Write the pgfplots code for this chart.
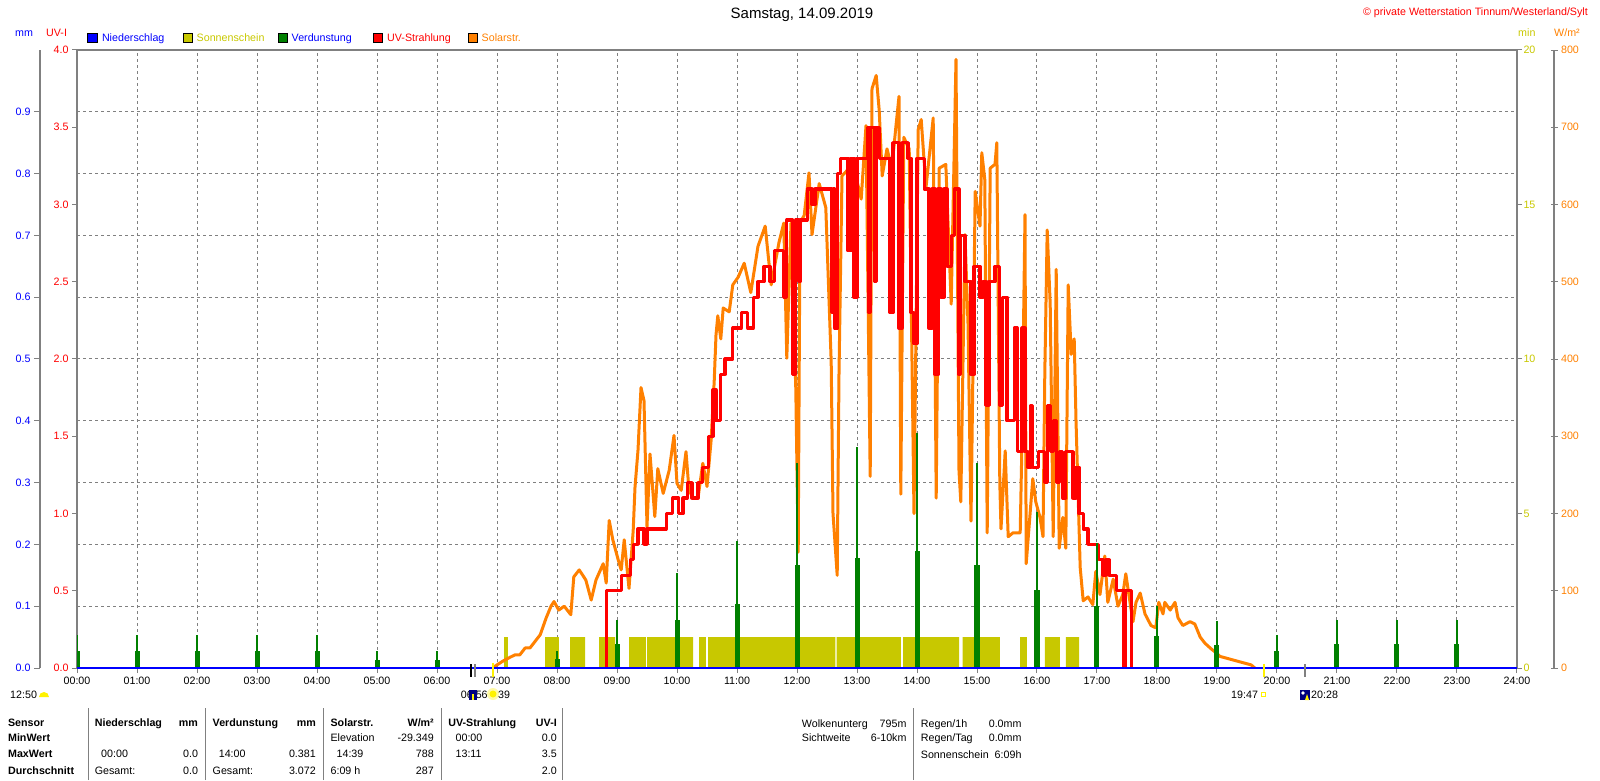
\documentclass[border=0pt]{standalone}
\usepackage{pgfplots}
\pgfplotsset{compat=1.18}
\usepackage{fontspec}
\setmainfont{Liberation Sans}
\definecolor{cblue}{RGB}{0,0,255}
\definecolor{csun}{RGB}{200,200,0}
\definecolor{cgreen}{RGB}{0,128,0}
\definecolor{cred}{RGB}{255,0,0}
\definecolor{corange}{RGB}{255,128,0}
\definecolor{cgray}{RGB}{128,128,128}
\definecolor{cnavy}{RGB}{0,0,128}
\newcommand\fs{\fontsize{10.7}{12}\selectfont}
\newcommand\fb{\fontsize{10.7}{12}\selectfont\bfseries}
\pgfplotsset{base/.style={scale only axis, width=1440pt, height=618pt, xmin=0, xmax=24, at={(77pt,112pt)}, anchor=south west}}

\pgfplotstableread{
h w
6.93 0
6.98 3
7.10 9
7.22 14
7.30 17
7.38 17
7.47 26
7.55 26
7.63 34
7.72 43
7.82 65
7.90 80
7.95 86
8.03 75
8.12 80
8.23 69
8.28 118
8.37 127
8.48 114
8.57 88
8.65 114
8.77 135
8.82 110
8.87 191
8.93 166
9.02 140
9.07 127
9.12 166
9.20 103
9.27 178
9.30 234
9.35 282
9.40 363
9.45 346
9.50 183
9.55 277
9.63 196
9.68 258
9.77 226
9.87 256
9.95 301
10.00 239
10.07 230
10.15 280
10.20 230
10.27 220
10.35 220
10.43 265
10.50 235
10.57 296
10.62 371
10.65 431
10.68 456
10.73 426
10.77 466
10.87 461
10.93 496
11.02 506
11.12 524
11.23 486
11.35 546
11.47 572
11.57 496
11.70 551
11.78 576
11.83 401
11.90 576
11.98 361
12.02 150
12.05 576
12.12 586
12.20 641
12.25 561
12.37 627
12.48 596
12.57 396
12.60 200
12.67 120
12.70 381
12.75 637
12.87 647
12.98 637
13.07 607
13.15 702
13.22 248
13.25 750
13.32 767
13.37 722
13.42 637
13.50 672
13.58 647
13.65 702
13.70 740
13.73 225
13.78 687
13.87 672
13.95 200
14.02 697
14.07 710
14.15 622
14.27 712
14.32 220
14.37 647
14.48 652
14.57 471
14.65 788
14.70 255
14.73 215
14.80 561
14.85 446
14.90 190
14.97 617
15.05 572
15.08 667
15.13 632
15.17 175
15.22 647
15.30 652
15.33 680
15.38 240
15.40 180
15.47 281
15.52 170
15.60 175
15.72 175
15.75 296
15.80 587
15.82 135
15.88 195
15.93 245
15.98 215
16.05 195
16.10 170
16.13 381
16.17 567
16.22 471
16.27 170
16.32 516
16.37 155
16.43 195
16.48 155
16.52 496
16.57 406
16.62 426
16.65 321
16.72 130
16.77 87
16.85 92
16.93 82
16.98 125
17.05 95
17.13 145
17.18 85
17.27 115
17.35 80
17.43 95
17.48 122
17.55 85
17.60 60
17.65 85
17.72 97
17.80 70
17.90 55
17.98 52
18.03 85
18.10 70
18.13 85
18.22 75
18.30 85
18.35 65
18.43 55
18.55 60
18.63 57
18.72 40
18.80 32
18.90 25
18.98 20
19.05 15
19.38 8
19.57 4
19.63 0
}\solar

\pgfplotstableread{
h uv
8.80 0
8.82 0.5
9.08 0.6
9.23 0.7
9.28 0.8
9.35 0.9
9.45 0.8
9.50 0.9
9.82 1.0
9.93 1.1
10.03 1.0
10.10 1.1
10.17 1.2
10.25 1.1
10.35 1.2
10.43 1.3
10.53 1.5
10.60 1.8
10.65 1.6
10.73 1.9
10.80 2.0
10.93 2.2
11.07 2.3
11.18 2.2
11.27 2.4
11.35 2.5
11.45 2.6
11.55 2.5
11.63 2.7
11.78 2.4
11.83 2.9
11.93 1.9
11.98 2.9
12.02 2.5
12.05 2.9
12.17 3.1
12.25 3.0
12.30 3.1
12.58 2.3
12.60 3.1
12.63 2.2
12.68 3.2
12.72 3.3
12.85 2.7
12.90 3.3
12.95 2.4
13.00 3.3
13.17 3.5
13.20 2.3
13.23 3.5
13.30 2.5
13.33 3.5
13.38 3.3
13.55 2.3
13.60 3.4
13.70 2.2
13.75 3.4
13.85 3.3
13.90 2.3
13.95 2.1
14.00 3.3
14.12 3.1
14.20 2.2
14.25 3.1
14.30 1.9
14.35 3.1
14.40 2.4
14.45 3.1
14.50 2.6
14.57 2.8
14.63 3.1
14.70 1.9
14.73 2.8
14.80 2.5
14.90 1.9
14.95 2.6
15.05 2.4
15.10 2.5
15.15 1.7
15.20 2.5
15.30 2.6
15.38 1.7
15.43 2.4
15.50 1.6
15.62 2.2
15.67 1.4
15.75 2.2
15.80 1.4
15.85 1.3
15.90 1.7
15.93 1.3
16.03 1.4
16.12 1.2
16.17 1.7
16.22 1.4
16.27 1.6
16.32 1.2
16.38 1.4
16.43 1.1
16.48 1.4
16.60 1.1
16.65 1.3
16.70 1.0
16.77 0.9
16.85 0.8
17.03 0.7
17.10 0.6
17.15 0.7
17.20 0.6
17.32 0.5
17.45 0
17.48 0.5
17.58 0
17.60 0
}\uvdata

\begin{document}
\begin{tikzpicture}
\path[use as bounding box] (0pt,0pt) rectangle (1600pt,780pt);

% grid
\begin{axis}[base, ymin=0, ymax=1, xtick={1,...,23}, ytick={0.1,0.2,...,0.9},
  xticklabels={}, yticklabels={}, major tick length=0pt, axis line style={draw=none},
  grid=major, major grid style={cgray, line width=1pt, dash pattern=on 3pt off 3pt}]
\addplot[draw=none] coordinates {(0,0)};
\end{axis}

% sunshine (min axis, right)
\begin{axis}[base, ymin=0, ymax=20, axis x line=none, axis y line*=right,
  y axis line style={cgray, line width=2pt}, ytick={0,5,10,15,20}, tick align=outside,
  major tick length=5pt, y tick style={cgray, line width=1pt},
  yticklabel style={text=csun, font=\fs, xshift=-2pt}, /pgf/number format/assume math mode=true]
\addplot[fill=csun, draw=none] coordinates {
(7.12,0)(7.12,1)(7.18,1)(7.18,0)
(7.80,0)(7.80,1)(8.03,1)(8.03,0)
(8.22,0)(8.22,1)(8.47,1)(8.47,0)
(8.70,0)(8.70,1)(8.97,1)(8.97,0)
(9.20,0)(9.20,1)(9.48,1)(9.48,0)
(9.50,0)(9.50,1)(10.27,1)(10.27,0)
(10.37,0)(10.37,1)(10.48,1)(10.48,0)
(10.52,0)(10.52,1)(12.64,1)(12.64,0)
(12.66,0)(12.66,1)(13.73,1)(13.73,0)
(13.77,0)(13.77,1)(14.70,1)(14.70,0)
(14.76,0)(14.76,1)(15.38,1)(15.38,0)
(15.72,0)(15.72,1)(15.83,1)(15.83,0)
(16.13,0)(16.13,1)(16.38,1)(16.38,0)
(16.48,0)(16.48,1)(16.70,1)(16.70,0)} \closedcycle;
\end{axis}

% solar radiation
\begin{axis}[base, ymin=0, ymax=800, hide axis]
\addplot[corange, line width=3pt, line join=round] table[x=h, y=w] {\solar};
\end{axis}

% UV axis with frame
\begin{axis}[base, ymin=0, ymax=4, axis line style={cgray, line width=2pt},
  xtick={0,...,24}, xtick pos=left, ytick={0,0.5,...,4}, ytick pos=left,
  xticklabels={00:00,01:00,02:00,03:00,04:00,05:00,06:00,07:00,08:00,09:00,10:00,11:00,12:00,13:00,14:00,15:00,16:00,17:00,18:00,19:00,20:00,21:00,22:00,23:00,24:00},
  tick align=outside, major tick length=5pt, tick style={cgray, line width=1pt},
  xticklabel style={font=\fs},
  yticklabel style={text=cred, font=\fs, /pgf/number format/fixed, /pgf/number format/fixed zerofill, /pgf/number format/precision=1},
  /pgf/number format/assume math mode=true]
\addplot[cred, line width=3.2pt, const plot, line join=round] table[x=h, y=uv] {\uvdata};
\end{axis}

% evaporation
\begin{axis}[base, ymin=0, ymax=1, hide axis]
\addplot[cgreen, ycomb, line width=5pt] coordinates {
(0,0.027)(1,0.027)(2,0.027)(3,0.027)(4,0.027)(5,0.013)(6,0.013)(8,0.014)(9,0.039)(10,0.077)(11,0.103)(12,0.166)(13,0.178)(14,0.19)(15,0.166)(16,0.127)(17,0.101)(18,0.051)(19,0.038)(20,0.027)(21,0.039)(22,0.039)(23,0.039)};
\addplot[cgreen, ycomb, line width=2.8pt] coordinates {
(0,0.053)(1,0.053)(2,0.053)(3,0.053)(4,0.053)(5,0.027)(6,0.027)(8,0.027)(9,0.077)(10,0.153)(11,0.205)(12,0.332)(13,0.357)(14,0.381)(15,0.332)(16,0.253)(17,0.203)(18,0.101)(19,0.076)(20,0.054)(21,0.077)(22,0.077)(23,0.077)};
\end{axis}

% precipitation line and sun/moon markers
\begin{axis}[base, ymin=0, ymax=1, hide axis, clip=false]
\addplot[cblue, line width=2pt] coordinates {(0,0) (24,0)};
\addplot[black, line width=2pt] coordinates {(6.567,-0.014) (6.567,0.006)};
\addplot[cgray, line width=2pt] coordinates {(6.633,-0.014) (6.633,0.006)};
\addplot[yellow, line width=2pt] coordinates {(6.933,-0.014) (6.933,0.008)};
\addplot[yellow, line width=2pt] coordinates {(19.783,-0.014) (19.783,0.006)};
\addplot[cgray, line width=2pt] coordinates {(20.467,-0.014) (20.467,0.006)};
\end{axis}

% mm axis (left, offset)
\begin{axis}[scale only axis, width=10pt, height=618pt, at={(40pt,112pt)}, anchor=south west,
  xmin=0, xmax=1, ymin=0, ymax=1, axis x line=none, axis y line*=left,
  y axis line style={cgray, line width=1.5pt}, ytick={0,0.1,...,0.9}, tick align=outside,
  major tick length=6pt, y tick style={cgray, line width=1pt},
  yticklabel style={text=cblue, font=\fs, /pgf/number format/fixed, /pgf/number format/fixed zerofill, /pgf/number format/precision=1},
  /pgf/number format/assume math mode=true]
\addplot[draw=none] coordinates {(0,0)};
\end{axis}

% W/m2 axis (right, offset)
\begin{axis}[scale only axis, width=10pt, height=618pt, at={(1554pt,112pt)}, anchor=south east,
  xmin=0, xmax=1, ymin=0, ymax=800, axis x line=none, axis y line*=right,
  y axis line style={cgray, line width=1.5pt}, ytick={0,100,...,800}, tick align=center,
  major tick length=7pt, y tick style={cgray, line width=1pt},
  yticklabel style={text=corange, font=\fs},
  /pgf/number format/assume math mode=true]
\addplot[draw=none] coordinates {(0,0)};
\end{axis}

% title and headers
\node[font={\fontsize{15}{18}\selectfont}, anchor=base] at (802pt,761pt) {Samstag, 14.09.2019};
\node[font=\fs, text=cred, anchor=base east, inner sep=0pt] at (1588pt,764pt) {© private Wetterstation Tinnum/Westerland/Sylt};
\node[font=\fs, text=cblue, anchor=base west, inner sep=0pt] at (15pt,743pt) {mm};
\node[font=\fs, text=cred, anchor=base west, inner sep=0pt] at (46pt,743pt) {UV-I};
\node[font=\fs, text=csun, anchor=base west, inner sep=0pt] at (1518pt,743pt) {min};
\node[font=\fs, text=corange, anchor=base west, inner sep=0pt] at (1554pt,743pt) {W/m²};

% legend
\draw[black, fill=cblue] (87.5pt,737.5pt) rectangle (97pt,747pt);
\node[font=\fs, text=cblue, anchor=base west, inner sep=0pt] at (101.8pt,738pt) {Niederschlag};
\draw[black, fill=csun] (183pt,737.5pt) rectangle (192.5pt,747pt);
\node[font=\fs, text=csun, anchor=base west, inner sep=0pt] at (196.5pt,738pt) {Sonnenschein};
\draw[black, fill=cgreen] (278pt,737.5pt) rectangle (287.5pt,747pt);
\node[font=\fs, text=cblue, anchor=base west, inner sep=0pt] at (291.5pt,738pt) {Verdunstung};
\draw[black, fill=cred] (373pt,737.5pt) rectangle (382.5pt,747pt);
\node[font=\fs, text=cred, anchor=base west, inner sep=0pt] at (387pt,738pt) {UV-Strahlung};
\draw[black, fill=corange] (468pt,737.5pt) rectangle (477.5pt,747pt);
\node[font=\fs, text=corange, anchor=base west, inner sep=0pt] at (481.5pt,738pt) {Solarstr.};

% sun / moon times
\node[font=\fs, anchor=base west, inner sep=0pt] at (10pt,82pt) {12:50};
\fill[yellow] (39pt,83pt) arc (180:0:5pt) -- cycle;
\node[font=\fs, anchor=base west, inner sep=0pt] at (460.7pt,82pt) {06:56};
\fill[cnavy] (469pt,80pt) rectangle (477pt,90pt);
\fill[yellow] (472pt,80pt) rectangle (474pt,86pt);
\fill[yellow!35] (493pt,86pt) circle (6pt);
\fill[yellow] (493pt,86pt) circle (3.5pt);
\node[font=\fs, anchor=base west, inner sep=0pt] at (498pt,82pt) {39};
\node[font=\fs, anchor=base west, inner sep=0pt] at (1231pt,82pt) {19:47};
\draw[yellow, line width=1pt] (1261pt,84pt) rectangle (1265pt,88pt);
\fill[cnavy] (1300pt,80pt) rectangle (1310pt,90pt);
\fill[white] (1303pt,87pt) circle (1.8pt);
\fill[yellow] (1305pt,80pt) -- (1307pt,86pt) -- (1309pt,80pt) -- cycle;
\node[font=\fs, anchor=base west, inner sep=0pt] at (1311pt,82pt) {20:28};

% table separators
\foreach \xx in {88.2,205.4,323.2,441.8,562,913.3} {\draw[cgray, line width=1pt] (\xx pt,0pt) -- (\xx pt,72pt);}

% table text
\begin{scope}[every node/.style={inner sep=0pt, font=\fs}]
\node[anchor=base west, font=\fb] at (7.9pt,54pt) {Sensor};
\node[anchor=base west, font=\fb] at (7.9pt,38.3pt) {MinWert};
\node[anchor=base west, font=\fb] at (7.9pt,22.3pt) {MaxWert};
\node[anchor=base west, font=\fb] at (7.9pt,6pt) {Durchschnitt};
\node[anchor=base west, font=\fb] at (94.6pt,54pt) {Niederschlag};
\node[anchor=base east, font=\fb] at (198.2pt,54pt) {mm};
\node[anchor=base west] at (101pt,22.3pt) {00:00};
\node[anchor=base east] at (198.2pt,22.3pt) {0.0};
\node[anchor=base west] at (94.6pt,6pt) {Gesamt:};
\node[anchor=base east] at (198.2pt,6pt) {0.0};
\node[anchor=base west, font=\fb] at (212.5pt,54pt) {Verdunstung};
\node[anchor=base east, font=\fb] at (316pt,54pt) {mm};
\node[anchor=base west] at (218.6pt,22.3pt) {14:00};
\node[anchor=base east] at (316pt,22.3pt) {0.381};
\node[anchor=base west] at (212.5pt,6pt) {Gesamt:};
\node[anchor=base east] at (316pt,6pt) {3.072};
\node[anchor=base west, font=\fb] at (330.4pt,54pt) {Solarstr.};
\node[anchor=base east, font=\fb] at (434pt,54pt) {W/m²};
\node[anchor=base west] at (330.4pt,38.3pt) {Elevation};
\node[anchor=base east] at (434pt,38.3pt) {-29.349};
\node[anchor=base west] at (336.4pt,22.3pt) {14:39};
\node[anchor=base east] at (434pt,22.3pt) {788};
\node[anchor=base west] at (330.4pt,6pt) {6:09 h};
\node[anchor=base east] at (434pt,6pt) {287};
\node[anchor=base west, font=\fb] at (448.2pt,54pt) {UV-Strahlung};
\node[anchor=base east, font=\fb] at (557pt,54pt) {UV-I};
\node[anchor=base west] at (455.4pt,38.3pt) {00:00};
\node[anchor=base east] at (557pt,38.3pt) {0.0};
\node[anchor=base west] at (455.4pt,22.3pt) {13:11};
\node[anchor=base east] at (557pt,22.3pt) {3.5};
\node[anchor=base east] at (557pt,6pt) {2.0};
\node[anchor=base west] at (801.7pt,53pt) {Wolkenunterg};
\node[anchor=base east] at (906.7pt,53pt) {795m};
\node[anchor=base west] at (801.7pt,38.3pt) {Sichtweite};
\node[anchor=base east] at (906.7pt,38.3pt) {6-10km};
\node[anchor=base west] at (920.7pt,53pt) {Regen/1h};
\node[anchor=base east] at (1021.7pt,53pt) {0.0mm};
\node[anchor=base west] at (920.7pt,38.3pt) {Regen/Tag};
\node[anchor=base east] at (1021.7pt,38.3pt) {0.0mm};
\node[anchor=base west] at (920.7pt,21.7pt) {Sonnenschein};
\node[anchor=base east] at (1021.7pt,21.7pt) {6:09h};
\end{scope}
\end{tikzpicture}
\end{document}
